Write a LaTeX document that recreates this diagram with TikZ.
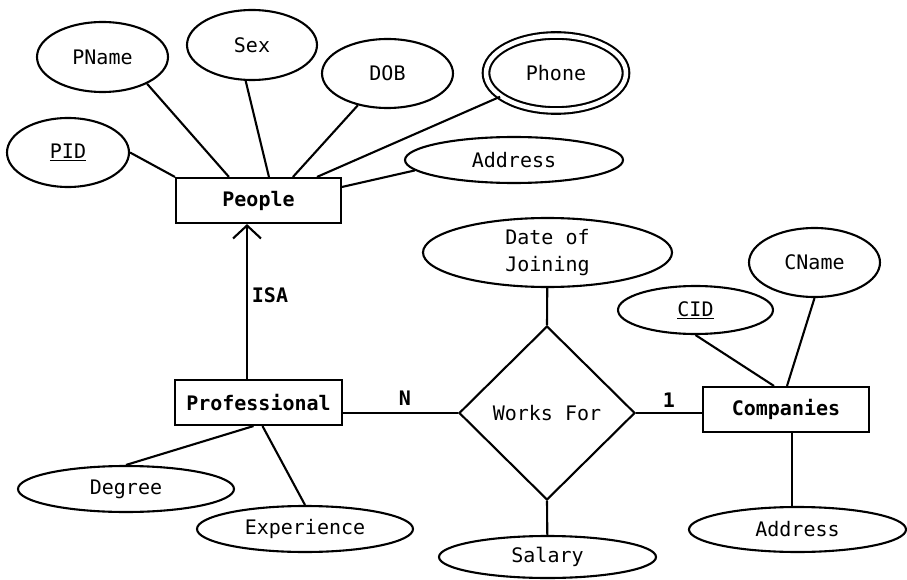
\documentclass[tikz,border=0pt]{standalone}
\usepackage{fontspec}
\setmonofont{DejaVu Sans Mono}
\usetikzlibrary{shapes.geometric,arrows.meta,calc}
\begin{document}
\begin{tikzpicture}[x=1pt,y=-1pt,line width=2.1pt,
  font=\ttfamily\fontsize{20}{27}\selectfont,
  attr/.style={ellipse,draw,inner sep=0pt},
  ent/.style={rectangle,draw,inner sep=0pt,minimum height=45pt,font=\ttfamily\bfseries\fontsize{20}{27}\selectfont},
  rel/.style={diamond,draw,inner sep=0pt,minimum width=176pt,minimum height=174pt},
  lbl/.style={inner sep=0pt,font=\ttfamily\bfseries\fontsize{20}{27}\selectfont}]
\useasboundingbox (0,0) rectangle (907,580);
% entities
\node[ent,minimum width=165pt] (people) at (258.5,200.5) {People};
\node[ent,minimum width=167pt] (prof) at (258.5,402.5) {Professional};
\node[ent,minimum width=166pt] (comp) at (786,409.5) {Companies};
\node[rel] (wf) at (547,413) {Works For};
% attributes
\node[attr,minimum width=122pt,minimum height=69pt] (pid) at (68,152.5) {\underline{PID}};
\node[attr,minimum width=131pt,minimum height=70pt] (pname) at (102.5,57) {PName};
\node[attr,minimum width=130pt,minimum height=70pt] (sex) at (252,45) {Sex};
\node[attr,minimum width=131pt,minimum height=69pt] (dob) at (387.5,73.5) {DOB};
\node[attr,double,double distance=4.5pt,minimum width=140pt,minimum height=75pt] (phone) at (556,73) {Phone};
\node[attr,minimum width=218pt,minimum height=46pt] (addrp) at (514,160) {Address};
\node[attr,minimum width=249pt,minimum height=69pt,align=center] (doj) at (547.5,252.5) {Date of\\Joining};
\node[attr,minimum width=155pt,minimum height=48pt] (cid) at (695.5,310) {\underline{CID}};
\node[attr,minimum width=131pt,minimum height=69pt] (cname) at (814.5,262.5) {CName};
\node[attr,minimum width=217pt,minimum height=45pt] (addrc) at (797.5,529.5) {Address};
\node[attr,minimum width=216pt,minimum height=46pt] (degree) at (126,489) {Degree};
\node[attr,minimum width=216pt,minimum height=46pt] (exp) at (305,529) {Experience};
\node[attr,minimum width=217pt,minimum height=42pt] (salary) at (547.5,557) {Salary};
% labels
\node[lbl] (isa) at (270,295) {ISA};
\node[lbl] (nlab) at (405,398) {N};
\node[lbl] (onelab) at (669,400) {1};
% connectors: People attributes
\draw (pid.east) -- (people.north west);
\draw (pname.-31) -- ($(people.north west)+(54,0)$);
\draw (sex.-100) -- ($(people.north west)+(94,0)$);
\draw (dob.-133) -- ($(people.north west)+(118,0)$);
\draw (phone.-157) -- ($(people.north west)+(142,0)$);
\draw (addrp.-174) -- ($(people.north east)+(0,10)$);
% ISA
\draw[-{Straight Barb[length=13pt,width=28pt]},line join=miter] ($(prof.north)+(-11.5,0)$) -- ($(people.south)+(-11.5,0)$);
% professional attributes
\draw (degree.north) -- ($(prof.south)+(-5,0)$);
\draw (exp.north) -- ($(prof.south)+(4,0)$);
% relationship
\draw (prof.east |- wf.west) -- (wf.west);
\draw (wf.east) -- (comp.west |- wf.east);
\draw (doj) -- (wf.north);
\draw (wf.south) -- (salary);
% company attributes
\draw (cid.south) -- ($(comp.north)+(-12,0)$);
\draw (cname.south) -- ($(comp.north)+(1,0)$);
\draw ($(comp.south)+(6,0)$) coordinate (c1) -- (c1 |- addrc.north);
\end{tikzpicture}
\end{document}
